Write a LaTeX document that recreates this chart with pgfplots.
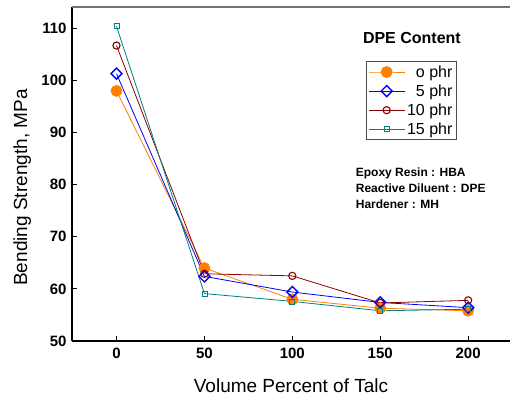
\documentclass[border=0pt]{standalone}
\usepackage{pgfplots}
\pgfplotsset{compat=1.18}
\usepackage{fontspec}
\setmainfont{Liberation Sans}
\definecolor{corange}{RGB}{255,128,0}
\definecolor{cblue}{RGB}{0,0,255}
\definecolor{cred}{RGB}{139,0,0}
\definecolor{cteal}{RGB}{0,128,128}
\begin{document}
\begin{tikzpicture}
\begin{axis}[
  scale only axis,
  width=438pt, height=334pt,
  xmin=-25.3, xmax=223.8, ymin=50, ymax=114.1,
  axis x line*=bottom, axis y line*=left,
  axis line style={-, line width=1.2pt, black},
  xtick={0,50,100,150,200}, ytick={50,60,...,110},
  tick align=inside, major tick length=5pt,
  tick style={line width=1pt, black},
  /pgf/number format/assume math mode=true,
  ticklabel style={font=\fontsize{15}{18}\selectfont\bfseries},
  xticklabel style={yshift=-3pt},
  yticklabel style={xshift=-2pt},
  xlabel={Volume Percent of Talc},
  ylabel={Bending Strength, MPa},
  label style={font=\fontsize{19}{22}\selectfont},
  xlabel style={at={(rel axis cs:0.5,-0.1527)}, anchor=base},
  ylabel style={at={(rel axis cs:-0.1027,0.4596)}, anchor=base},
  legend cell align=right,
  legend style={at={(rel axis cs:0.671,0.838)}, anchor=north west,
    draw=black!70, line width=0.7pt, font=\fontsize{16}{18}\selectfont,
    inner sep=2pt, row sep=2pt,
    nodes={inner sep=2pt}},
  legend image code/.code={\draw[mark repeat=2,mark phase=2] plot coordinates {(0pt,0pt) (18pt,0pt) (36pt,0pt)};},
  clip=false,
]
\addplot[color=corange, line width=0.8pt, mark=*, mark size=5.5pt, mark options={fill=corange, draw=corange}]
  coordinates {(0,98.0) (50,64.0) (100,58.0) (150,56.3) (200,55.8)};
\addlegendentry{o phr}
\addplot[color=cblue, line width=0.8pt, mark=square, mark size=3.9pt, mark options={rotate=45, line width=1.4pt, fill=white}]
  coordinates {(0,101.3) (50,62.4) (100,59.4) (150,57.4) (200,56.4)};
\addlegendentry{5 phr}
\addplot[color=cred, line width=0.8pt, mark=o, mark size=3.6pt, mark options={line width=1.1pt, fill=white}]
  coordinates {(0,106.7) (50,62.9) (100,62.5) (150,57.3) (200,57.8)};
\addlegendentry{10 phr}
\addplot[color=cteal, line width=0.8pt, mark=square, mark size=2.5pt, mark options={line width=0.8pt, fill=white}]
  coordinates {(0,110.4) (50,59.1) (100,57.6) (150,55.8) (200,56.1)};
\addlegendentry{15 phr}
\draw[black!55, line width=1.2pt] (rel axis cs:0,1) -- (rel axis cs:1,1);
\node[font=\fontsize{16}{18}\selectfont\bfseries] at (rel axis cs:0.776,0.907) {DPE Content};
\node[anchor=west, align=left, font=\fontsize{12}{16}\selectfont\bfseries] at (rel axis cs:0.640,0.458)
  {Epoxy Resin : HBA\\Reactive Diluent : DPE\\Hardener : MH};
\end{axis}
\pgfresetboundingbox
\useasboundingbox ([shift={(-72pt,-55pt)}]current axis.south west) rectangle ([shift={(0pt,7pt)}]current axis.north east);
\end{tikzpicture}
\end{document}
